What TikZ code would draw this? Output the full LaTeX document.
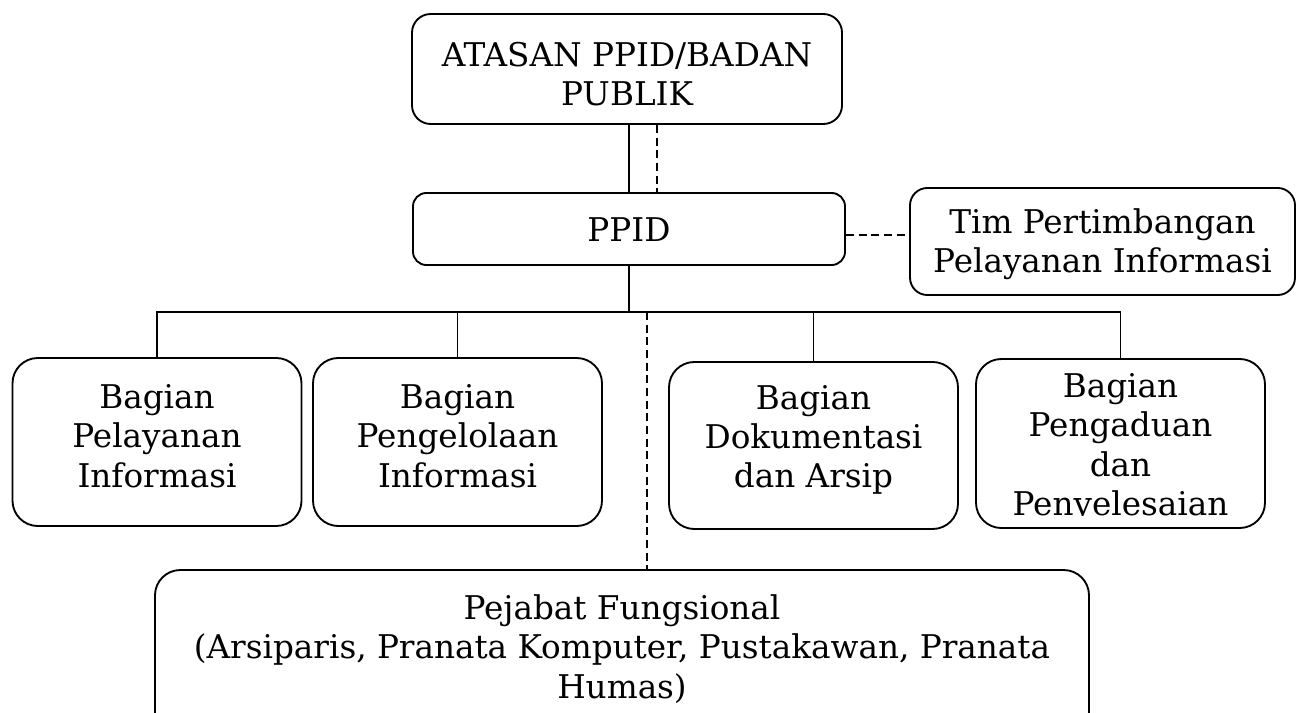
\documentclass[tikz,border=0pt]{standalone}
\usepackage{fontspec}
\setmainfont{DejaVu Serif}
\begin{document}
\begin{tikzpicture}[x=0.75pt,y=-0.75pt,
  box/.style={draw, line width=1.4pt, inner sep=0pt, rectangle},
  txt/.style={align=center, inner sep=0pt, font=\fontsize{24.5}{29.5}\selectfont},
  link/.style={line width=1.4pt},
  dlink/.style={line width=1.4pt, dash pattern=on 6pt off 3.5pt}]
\useasboundingbox (0,0) rectangle (1299,713);
\clip (0,0) rectangle (1299,713);
\fill[white] (0,0) rectangle (1299,713);

% boxes
\node[box, rounded corners=14pt, minimum width=322.5pt, minimum height=82.5pt] (atasan) at (627,69) {};
\node[box, rounded corners=10pt, minimum width=324pt, minimum height=54pt] (ppid) at (629,229) {};
\node[box, rounded corners=13pt, minimum width=288.75pt, minimum height=80.25pt] (tim) at (1102.5,241.5) {};
\node[box, rounded corners=19pt, minimum width=216.75pt, minimum height=126pt] (b1) at (157,442) {};
\node[box, rounded corners=19pt, minimum width=216.75pt, minimum height=126pt] (b2) at (457.5,442) {};
\node[box, rounded corners=19pt, minimum width=216.75pt, minimum height=125.25pt] (b3) at (813.5,445.5) {};
\node[box, rounded corners=19pt, minimum width=216.75pt, minimum height=126.75pt] (b4) at (1120.5,443.5) {};
\node[box, rounded corners=19pt, minimum width=700.5pt, minimum height=131.25pt] (pej) at (622,657.5) {};

% texts
\node[txt] (t0) at (627,74) {ATASAN PPID/BADAN\\PUBLIK};
\node[txt] (tp) at (629,230) {PPID};
\node[txt] (tt) at (1102.5,244) {Tim Pertimbangan\\Pelayanan Informasi};
\node[txt] (t1) at (157,436) {Bagian\\Pelayanan\\Informasi};
\node[txt] (t2) at (457.5,436) {Bagian\\Pengelolaan\\Informasi};
\node[txt] (t3) at (813.5,440) {Bagian\\Dokumentasi\\dan Arsip};
\begin{scope}
  \clip (b4.north west) rectangle (b4.east |- 0,515);
  \node[txt] (t4) at (1120.5,448) {Bagian\\Pengaduan\\dan\\Penyelesaian};
\end{scope}
\node[txt] (t5) at (622,649) {Pejabat Fungsional\\(Arsiparis, Pranata Komputer, Pustakawan, Pranata\\Humas)};

% connectors
\coordinate (bus) at (0,312);
\coordinate (dx) at (657,0);
\coordinate (busd) at (647,312);
\draw[link] (atasan.south -| ppid.north) -- (ppid.north);
\draw[dlink] (atasan.south -| dx) -- (ppid.north -| dx);
\draw[dlink] (ppid.east |- 0,235) -- (tim.west |- 0,235);
\draw[link] (ppid.south) -- (ppid.south |- bus);
\draw[link] (b1.north) -- (b1.north |- bus) -- (b4.north |- bus) -- (b4.north);
\draw[link] (b2.north) -- (b2.north |- bus);
\draw[link] (b3.north) -- (b3.north |- bus);
\draw[dlink] (busd) -- (pej.north -| busd);
\end{tikzpicture}
\end{document}
